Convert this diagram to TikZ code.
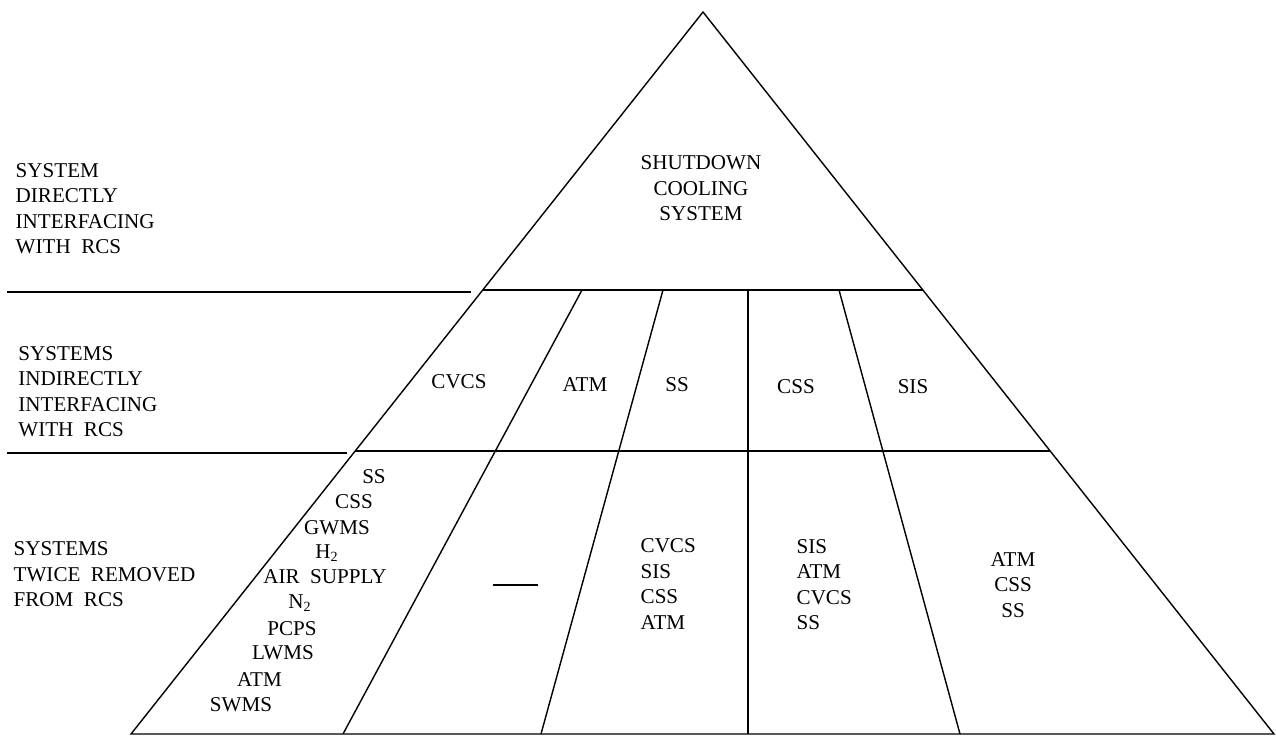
\documentclass[tikz,border=0pt]{standalone}
\usepackage{fontspec}
\setmainfont{Liberation Serif}
\usetikzlibrary{calc}
\tikzset{
  lvl/.style={inner sep=0pt,align=left,anchor=west},
  sys/.style={inner sep=0pt,align=center},
  col/.style={inner sep=0pt,align=left,anchor=west}
}

\begin{document}
\begin{tikzpicture}[x=0.02cm,y=-0.02cm,thick,font=\fontsize{12}{14.5}\selectfont]
    \useasboundingbox (0,0) rectangle (1276,735);
    % pyramid outline
    \coordinate (apex) at (703,12);
    \coordinate (bl) at (131,734);
    \coordinate (br) at (1274,734);
    \draw (apex) -- (bl) -- (br) -- cycle;
    % bands
    \coordinate (b1l) at ($(apex)!0.385!(bl)$);
    \coordinate (b1r) at ($(apex)!0.385!(br)$);
    \coordinate (b2l) at ($(apex)!0.608!(bl)$);
    \coordinate (b2r) at ($(apex)!0.608!(br)$);
    \draw (b1l) -- (b1r);
    \draw (b2l) -- (b2r);
    % dividers below the top band
    \draw (582,290) -- (343,734);
    \draw (663,290) -- (541,734);
    \draw (748,290) -- (748,734);
    \draw (839,290) -- (960,734);
    % level rules on the left
    \draw (7,292) -- (471,292);
    \draw (7,453) -- (347,453);

    \node[lvl] (lvl1) at (15,208.5) {SYSTEM\\DIRECTLY\\INTERFACING\\WITH~~RCS};
    \node[lvl] (lvl2) at (17.7,391.5) {SYSTEMS\\INDIRECTLY\\INTERFACING\\WITH~~RCS};
    \node[lvl] (lvl3) at (13,574.5) {SYSTEMS\\TWICE~~REMOVED\\FROM~~RCS};

    \node[sys] (sdc) at (701,188.5) {SHUTDOWN\\COOLING\\SYSTEM};

    \node[sys] (cvcs) at (459,382) {CVCS};
    \node[sys] (atm) at (585,385) {ATM};
    \node[sys] (ss) at (677,385) {SS};
    \node[sys] (css) at (796,387) {CSS};
    \node[sys] (sis) at (913,387) {SIS};

    % twice removed, under CVCS
    \foreach \t/\x/\y [count=\i] in {SS/374/477,CSS/354/502,GWMS/337/528,
        H\textsubscript{2}/327/553,AIR~~SUPPLY/325/577,N\textsubscript{2}/300/603,
        PCPS/292/629,LWMS/283/653,ATM/259.5/680,SWMS/241/705}
      \node[sys] (cv\i) at (\x,\y) {\t};
    % nothing under ATM
    \draw (493,585) -- (538,585);
    \node[col] (ssl) at (640,584) {CVCS\\SIS\\CSS\\ATM};
    \node[col] (cssl) at (796,584.7) {SIS\\ATM\\CVCS\\SS};
    \node[sys] (sisl) at (1013,585) {ATM\\CSS\\SS};
\end{tikzpicture}
\end{document}
